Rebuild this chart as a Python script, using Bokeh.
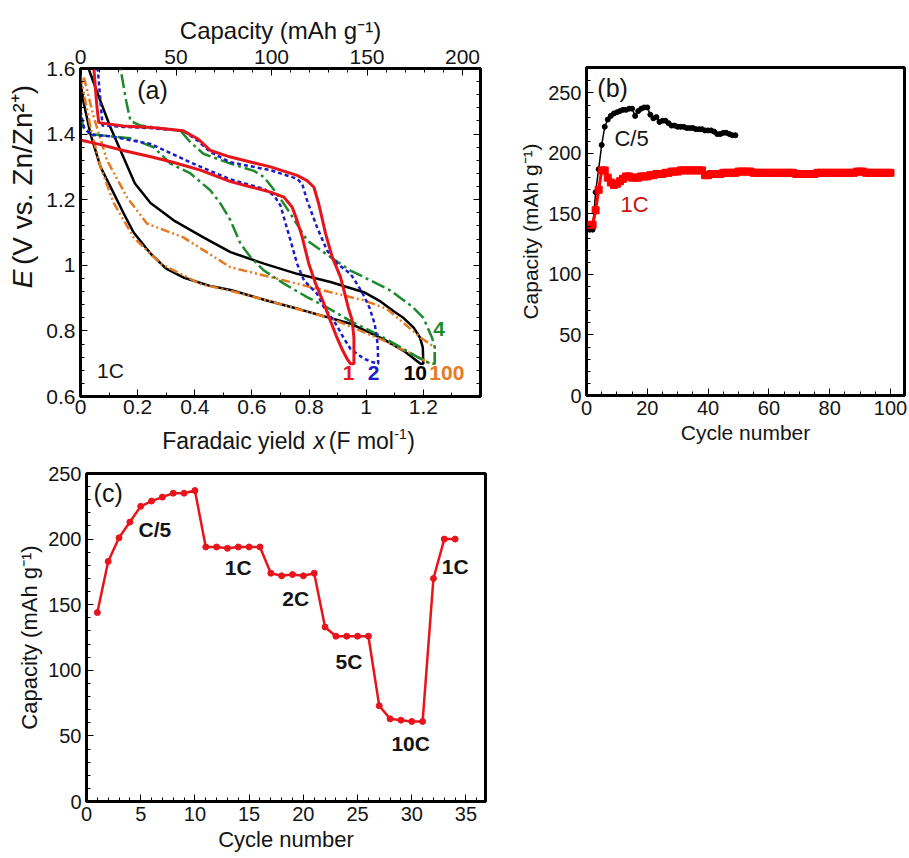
from math import pi
from bokeh.plotting import figure
from bokeh.models import Range1d, LinearAxis, SingleIntervalTicker, NumeralTickFormatter, Label
from bokeh.layouts import column, row
from bokeh.core.properties import value
from bokeh.embed import file_html
from bokeh.resources import INLINE

FONT = "Liberation Sans"

# ---------------- panel (a): E vs Faradaic yield x ----------------
cyc1_x = [0.0, 0.07, 0.15, 0.25, 0.32, 0.42, 0.525, 0.60, 0.665, 0.712, 0.741, 0.758, 0.776, 0.799, 0.823, 0.852, 0.875, 0.895, 0.915, 0.933, 0.945, 0.957,
          0.957, 0.95, 0.939, 0.928, 0.91, 0.881, 0.858, 0.834, 0.817, 0.793, 0.758, 0.665, 0.525, 0.455, 0.41, 0.36, 0.25, 0.15, 0.064, 0.058, 0.052, 0.047]
cyc1_y = [1.382, 1.368, 1.35, 1.33, 1.315, 1.29, 1.255, 1.238, 1.223, 1.208, 1.177, 1.137, 1.086, 1.005, 0.944, 0.883, 0.83, 0.785, 0.745, 0.715, 0.70, 0.70,
          0.78, 0.835, 0.865, 0.903, 0.964, 1.025, 1.096, 1.187, 1.238, 1.258, 1.274, 1.30, 1.33, 1.35, 1.386, 1.41, 1.42, 1.425, 1.435, 1.48, 1.54, 1.60]

cyc2_x = [0.0, 0.012, 0.035, 0.105, 0.245, 0.32, 0.41, 0.525, 0.642, 0.677, 0.70, 0.718, 0.735, 0.758, 0.782, 0.828, 0.852, 0.875, 0.898, 0.92, 0.945, 0.992, 1.038,
          1.042, 1.04, 1.03, 1.012, 0.99, 0.97, 0.945, 0.898, 0.863, 0.828, 0.793, 0.776, 0.758, 0.665, 0.525, 0.455, 0.41, 0.36, 0.25, 0.15, 0.077, 0.072, 0.066, 0.06]
cyc2_y = [1.47, 1.42, 1.398, 1.393, 1.37, 1.34, 1.304, 1.262, 1.233, 1.213, 1.182, 1.127, 1.076, 1.005, 0.954, 0.913, 0.872, 0.845, 0.815, 0.78, 0.745, 0.715, 0.70,
          0.70, 0.76, 0.82, 0.87, 0.91, 0.94, 0.974, 1.005, 1.045, 1.116, 1.198, 1.248, 1.264, 1.29, 1.314, 1.345, 1.38, 1.41, 1.418, 1.422, 1.426, 1.48, 1.54, 1.60]

cyc4_x = [0.0, 0.01, 0.04, 0.08, 0.175, 0.256, 0.315, 0.385, 0.455, 0.49, 0.525, 0.56, 0.595, 0.642, 0.712, 0.793, 0.852, 0.945, 1.06, 1.18, 1.225,
          1.24, 1.24, 1.23, 1.2, 1.16, 1.12, 1.085, 1.015, 0.945, 0.875, 0.793, 0.735, 0.688, 0.642, 0.607, 0.525, 0.43, 0.385, 0.35, 0.21, 0.175, 0.16, 0.14]
cyc4_y = [1.46, 1.42, 1.40, 1.396, 1.387, 1.36, 1.31, 1.28, 1.228, 1.188, 1.137, 1.066, 1.025, 0.984, 0.944, 0.903, 0.877, 0.83, 0.78, 0.72, 0.70,
          0.70, 0.75, 0.78, 0.84, 0.875, 0.90, 0.923, 0.954, 0.984, 1.025, 1.076, 1.157, 1.218, 1.269, 1.288, 1.31, 1.34, 1.375, 1.41, 1.426, 1.44, 1.5, 1.60]

cyc10_x = [0.0, 0.01, 0.035, 0.07, 0.116, 0.15, 0.186, 0.245, 0.30, 0.36, 0.45, 0.525, 0.642, 0.77, 0.945, 1.06, 1.13, 1.19,
           1.2, 1.198, 1.188, 1.166, 1.13, 1.096, 1.05, 0.992, 0.875, 0.758, 0.642, 0.525, 0.43, 0.326, 0.245, 0.19, 0.15, 0.105, 0.07, 0.028]
cyc10_y = [1.56, 1.50, 1.40, 1.30, 1.22, 1.16, 1.10, 1.036, 0.99, 0.963, 0.938, 0.925, 0.895, 0.865, 0.822, 0.775, 0.74, 0.70,
           0.70, 0.75, 0.78, 0.81, 0.84, 0.86, 0.89, 0.918, 0.949, 0.974, 1.005, 1.04, 1.085, 1.137, 1.19, 1.25, 1.33, 1.42, 1.50, 1.60]

cyc100_x = [0.0, 0.006, 0.035, 0.07, 0.116, 0.186, 0.28, 0.42, 0.525, 0.654, 0.886, 1.06, 1.16, 1.225,
            1.24, 1.24, 1.19, 1.12, 1.073, 0.992, 0.875, 0.758, 0.642, 0.525, 0.36, 0.233, 0.163, 0.093, 0.047, 0.01]
cyc100_y = [1.58, 1.55, 1.42, 1.30, 1.19, 1.085, 1.005, 0.943, 0.922, 0.893, 0.835, 0.771, 0.73, 0.70,
            0.70, 0.75, 0.78, 0.832, 0.867, 0.893, 0.918, 0.944, 0.969, 0.994, 1.085, 1.127, 1.207, 1.32, 1.45, 1.58]

# ---------------- panel (b): capacity vs cycle ----------------
b_c5_cycle = list(range(1, 50))
b_c5_cap = [137, 137, 168, 187, 207, 222, 228, 231, 233, 234, 235, 236, 236, 237, 237, 231, 235, 237, 238, 238,
            232, 229, 230, 226, 227, 227, 225, 223, 223, 222, 222, 222, 221, 221, 221, 220, 220, 220, 219, 219,
            219, 218, 216, 216, 217, 217, 216, 215, 215]
b_1c_cycle = list(range(1, 101))
b_1c_cap = [141, 141, 153, 170, 186, 186, 180, 176, 174, 175, 177, 179, 181, 181, 180, 180, 180, 181, 181, 181,
            182, 182, 183, 183, 183, 184, 184, 185, 185, 185, 186, 186, 186, 186, 186, 186, 186, 186, 182, 182,
            183, 183, 183, 183, 184, 184, 184, 184, 184, 185, 185, 185, 185, 185, 184, 184, 184, 184, 184, 184,
            184, 184, 184, 184, 184, 184, 184, 184, 183, 183, 183, 183, 183, 183, 183, 184, 184, 184, 184, 184,
            184, 184, 184, 184, 184, 184, 184, 184, 185, 185, 185, 184, 184, 184, 184, 184, 184, 184, 184, 184]

# ---------------- panel (c): rate capability ----------------
c_cycle = list(range(1, 35))
c_cap = [144, 183, 201, 213, 225, 229, 232, 235, 235, 237, 194, 194, 193, 194, 194, 194, 174, 172, 173, 172,
         174, 133, 126, 126, 126, 126, 73, 63, 62, 61, 61, 170, 200, 200]

RED = "#e8141c"
BLUE = "#1c1cc8"
GREEN = "#1d8a2c"
ORANGE = "#e57a22"
BLACK = "#000000"
TXT = "#141414"


def style_axis(ax, tick_size="20px", title_size="22px"):
    ax.major_label_text_font = FONT
    ax.major_label_text_font_size = tick_size
    ax.major_label_text_color = TXT
    ax.axis_label_text_font = FONT
    ax.axis_label_text_font_size = title_size
    ax.axis_label_text_font_style = "normal"
    ax.axis_label_text_color = TXT
    ax.major_tick_in = 7
    ax.major_tick_out = 0
    ax.minor_tick_in = 4
    ax.minor_tick_out = 0
    ax.major_tick_line_color = BLACK
    ax.minor_tick_line_color = BLACK
    ax.axis_line_color = BLACK
    ax.axis_line_width = 2
    ax.major_label_standoff = 5
    ax.axis_label_standoff = 3


def base_fig(width, height, xr, yr, bl, br, bt, bb):
    p = figure(width=width, height=height, x_range=xr, y_range=yr,
               output_backend="svg", toolbar_location=None,
               min_border_left=bl, min_border_right=br, min_border_top=bt, min_border_bottom=bb)
    p.grid.visible = False
    p.outline_line_color = BLACK
    p.outline_line_width = 3
    p.background_fill_color = "white"
    p.border_fill_color = "white"
    return p


def strip_fig(width, height):
    p = figure(width=width, height=height, x_range=Range1d(0, width), y_range=Range1d(0, height),
               output_backend="svg", toolbar_location=None, min_border=0,
               x_axis_type=None, y_axis_type=None)
    p.outline_line_color = None
    p.background_fill_color = "white"
    p.border_fill_color = "white"
    return p


def txt(p, x, y, text, size="23px", style="normal", align="left", angle=0.0):
    p.text(x=[x], y=[y], text=[text], angle=angle, text_font=value(FONT), text_font_size=value(size),
           text_font_style=style, text_align=align, text_baseline="middle", text_color=TXT)


def lab(p, x, y, text, size="20px", color=TXT, style="normal", align="center"):
    p.add_layout(Label(x=x, y=y, text=text, text_font=FONT, text_font_size=size, text_color=color,
                       text_font_style=style, text_align=align, text_baseline="middle"))


# ---------- figure (a) ----------
pa = base_fig(454, 424, Range1d(0, 1.4), Range1d(0.6, 1.6), 40, 14, 68, 28)
pa.xaxis.ticker = SingleIntervalTicker(interval=0.2, num_minor_ticks=2)
pa.yaxis.ticker = SingleIntervalTicker(interval=0.2, num_minor_ticks=5)
pa.xaxis.formatter = NumeralTickFormatter(format="0.[0]")
pa.yaxis.formatter = NumeralTickFormatter(format="0.[0]")
style_axis(pa.xaxis[0], tick_size="21px")
style_axis(pa.yaxis[0], tick_size="21px")
pa.xaxis[0].major_label_standoff = 3
pa.extra_x_ranges = {"cap": Range1d(0, 209.4)}
ax_top = LinearAxis(x_range_name="cap", axis_label="Capacity (mAh g\u207b\u00b9)",
                    ticker=SingleIntervalTicker(interval=50, num_minor_ticks=5))
style_axis(ax_top, tick_size="21px", title_size="24px")
pa.add_layout(ax_top, "above")
ax_right = LinearAxis(ticker=SingleIntervalTicker(interval=0.2, num_minor_ticks=5))
style_axis(ax_right)
ax_right.major_label_text_font_size = "1px"
ax_right.major_label_text_color = None
ax_right.major_label_standoff = 0
pa.add_layout(ax_right, "right")

pa.line(cyc10_x, cyc10_y, line_color=BLACK, line_width=2.5)
pa.line(cyc100_x, cyc100_y, line_color=ORANGE, line_width=2.5, line_dash="9 3 2 3 2 3")
pa.line(cyc4_x, cyc4_y, line_color=GREEN, line_width=2.5, line_dash="14 4 3 4")
pa.line(cyc2_x, cyc2_y, line_color=BLUE, line_width=2.5, line_dash="4 3")
pa.line(cyc1_x, cyc1_y, line_color=RED, line_width=3)

lab(pa, 0.252, 1.533, "(a)", size="25px")
lab(pa, 0.105, 0.679, "1C", size="21px")
lab(pa, 0.938, 0.672, "1", size="21px", color=RED, style="bold")
lab(pa, 1.026, 0.672, "2", size="21px", color=BLUE, style="bold")
lab(pa, 1.172, 0.672, "10", size="21px", color=BLACK, style="bold")
lab(pa, 1.282, 0.672, "100", size="21px", color=ORANGE, style="bold")
lab(pa, 1.255, 0.807, "4", size="21px", color=GREEN, style="bold")

# y title of (a), with italic E
ya = strip_fig(40, 424)
txt(ya, 22, 140, "E", size="28px", style="italic", angle=pi / 2)
txt(ya, 22, 170, "(V vs. Zn/Zn\u00b2\u207a)", size="28px", angle=pi / 2)

# x title of (a), with italic x and a raised -1
# (this strip's frame is aligned with panel (c)'s frame by the column layout)
xa = strip_fig(494, 30)
txt(xa, 271, 14, "Faradaic yield", align="right")
txt(xa, 281, 14, "x", style="italic")
txt(xa, 300, 14, "(F mol")
txt(xa, 381, 21, "-1", size="14px")
txt(xa, 397, 14, ")")

# ---------- figure (b) ----------
pb = base_fig(415, 450, Range1d(0, 104.6), Range1d(0, 271), 92, 5, 67, 55)
pb.xaxis.ticker = SingleIntervalTicker(interval=20, num_minor_ticks=4)
pb.yaxis.ticker = SingleIntervalTicker(interval=50, num_minor_ticks=5)
pb.xaxis.axis_label = "Cycle number"
pb.yaxis.axis_label = "Capacity (mAh g\u207b\u00b9)"
style_axis(pb.xaxis[0], title_size="21px")
style_axis(pb.yaxis[0], title_size="21px")
pb.line(b_c5_cycle, b_c5_cap, line_color=BLACK, line_width=1.5)
pb.scatter(b_c5_cycle, b_c5_cap, marker="circle", size=5, color=BLACK)
pb.line(b_1c_cycle, b_1c_cap, line_color="#ff0000", line_width=3)
pb.scatter(b_1c_cycle, b_1c_cap, marker="square", size=7, color="#ff0000")
lab(pb, 8.6, 254, "(b)", size="25px")
lab(pb, 14.8, 212, "C/5", size="22px")
lab(pb, 15.8, 158, "1C", size="22px", color="#d01010")

# ---------- figure (c) ----------
pc = base_fig(494, 402, Range1d(0, 36.8), Range1d(0, 250), 86, 9, 19, 55)
pc.xaxis.ticker = SingleIntervalTicker(interval=5, num_minor_ticks=5)
pc.yaxis.ticker = SingleIntervalTicker(interval=50, num_minor_ticks=5)
pc.xaxis.axis_label = "Cycle number"
pc.yaxis.axis_label = "Capacity (mAh g\u207b\u00b9)"
style_axis(pc.xaxis[0])
style_axis(pc.yaxis[0])
pc.line(c_cycle, c_cap, line_color=RED, line_width=2.5)
pc.scatter(c_cycle, c_cap, marker="circle", size=6, color=RED)
lab(pc, 2.0, 235, "(c)", size="25px")
lab(pc, 6.3, 207, "C/5", size="21px", style="bold")
lab(pc, 14.0, 178, "1C", size="21px", style="bold")
lab(pc, 19.3, 155, "2C", size="21px", style="bold")
lab(pc, 24.2, 107, "5C", size="21px", style="bold")
lab(pc, 29.9, 44, "10C", size="21px", style="bold")
lab(pc, 34.0, 179, "1C", size="21px", style="bold")

layout = row(column(row(ya, pa), xa, pc), pb)
open("out.html", "w").write(file_html(layout, INLINE))
